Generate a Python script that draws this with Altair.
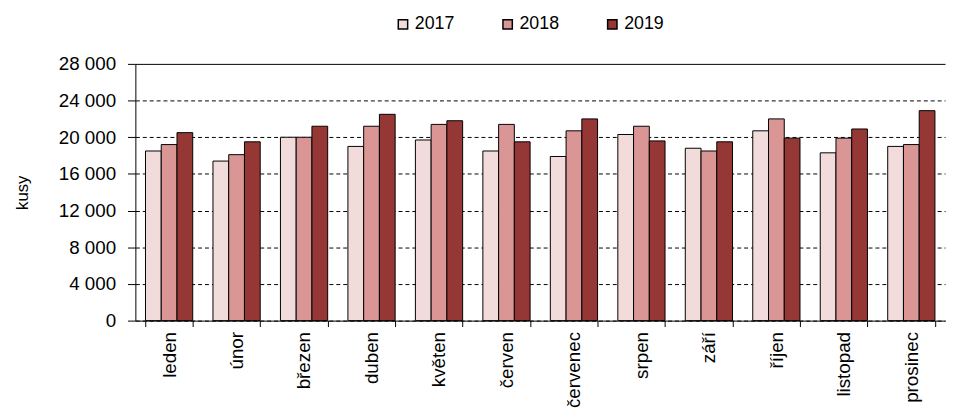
import altair as alt
import pandas as pd

months = ["leden", "únor", "březen", "duben", "květen", "červen",
          "červenec", "srpen", "září", "říjen", "listopad", "prosinec"]
years = ["2017", "2018", "2019"]
v2017 = [18500, 17400, 20000, 19000, 19700, 18500, 17900, 20300, 18800, 20700, 18300, 19000]
v2018 = [19200, 18100, 20000, 21200, 21400, 21400, 20700, 21200, 18500, 22000, 19900, 19200]
v2019 = [20500, 19500, 21200, 22500, 21800, 19500, 22000, 19600, 19500, 19900, 20900, 22900]
colors = ["#F2DCDB", "#DA9694", "#953735"]
y_ticks = [0, 4000, 8000, 12000, 16000, 20000, 24000, 28000]

rows = []
for yr, vals in zip(years, [v2017, v2018, v2019]):
    for m, v in zip(months, vals):
        rows.append({"mesic": m, "rok": yr, "kusy": v})
df = pd.DataFrame(rows)

font = "Liberation Sans"

chart = alt.Chart(df).mark_bar(stroke="black", strokeWidth=1).encode(
    x=alt.X("mesic:N", sort=months, title=None,
            scale=alt.Scale(paddingInner=0.3, paddingOuter=0.15),
            axis=alt.Axis(labelAngle=-90, tickBand="extent", tickSize=6,
                          labelPadding=5, domainColor="black", tickColor="black",
                          labelColor="black", labelFontSize=19, labelFont=font,
                          labelAlign="right", labelBaseline="middle")),
    xOffset=alt.XOffset("rok:N", sort=years),
    y=alt.Y("kusy:Q", title="kusy",
            scale=alt.Scale(domain=[0, 28000], nice=False),
            axis=alt.Axis(values=y_ticks, tickSize=8, labelPadding=12,
                          labelExpr="replace(format(datum.value, ','), ',', ' ')",
                          domainColor="black", tickColor="black",
                          labelColor="black", labelFontSize=19, labelFont=font,
                          titleFont=font, titleFontSize=17, titleFontWeight="normal",
                          titleColor="black", titlePadding=27,
                          grid=True, gridColor="black", gridOpacity=1, gridWidth=1,
                          gridDash={"condition": {"test": "datum.value === 28000", "value": []},
                                    "value": [4, 3]})),
    color=alt.Color("rok:N", scale=alt.Scale(domain=years, range=colors),
                    legend=alt.Legend(title=None, orient="none", legendX=262, legendY=-49,
                                      direction="horizontal", symbolType="square",
                                      symbolSize=90, symbolStrokeColor="black",
                                      symbolStrokeWidth=1.5, symbolOpacity=1,
                                      labelFont=font, labelFontSize=18, labelColor="black",
                                      labelOffset=3, columnPadding=44)),
).properties(width=820, height=260).configure_view(stroke=None).configure_axisX(grid=False)

chart.save("out.html", embed_options={"renderer": "svg", "actions": False})
